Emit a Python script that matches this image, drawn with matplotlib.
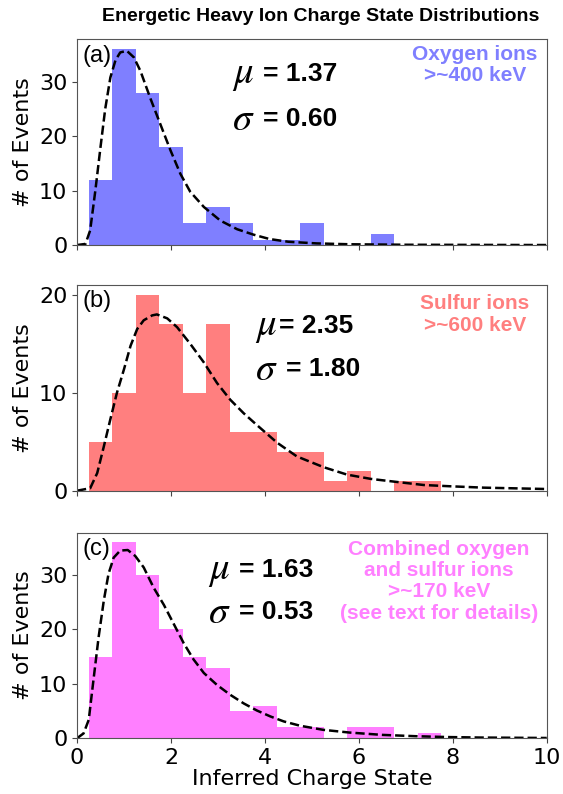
import numpy as np
import matplotlib
matplotlib.use('Agg')
import matplotlib.pyplot as plt

plt.rcParams['mathtext.fontset'] = 'stix'

# histogram bins (centres, width 0.5)
bin_centers = [0.5, 1.0, 1.5, 2.0, 2.5, 3.0, 3.5, 4.0, 4.5, 5.0, 5.5, 6.0, 6.5, 7.0, 7.5]
counts_oxygen = [12, 36, 28, 18, 4, 7, 4, 1, 1, 4, 0, 0, 2, 0, 0]
counts_sulfur = [5, 10, 20, 17, 10, 17, 6, 6, 4, 4, 1, 2, 0, 1, 1]
counts_combined = [15, 36, 30, 20, 15, 13, 5, 6, 2, 2, 0, 2, 2, 0, 1]

# fitted curves
fit_x_oxygen = [0, 0.18, 0.28, 0.39, 0.5, 0.6, 0.71, 0.82, 0.92, 1.06, 1.21, 1.35, 1.56,
                1.77, 1.99, 2.2, 2.41, 2.7, 3.05, 3.41, 3.76, 4.1, 4.5, 5.1, 5.8, 7.0, 10.0]
fit_y_oxygen = [0, 0.2, 2.7, 10, 18, 25, 30.8, 34, 35.4, 35.7, 34.5, 32, 27,
                22.3, 17.4, 13.1, 9.8, 7.0, 4.5, 2.9, 1.9, 1.1, 0.6, 0.3, 0.14, 0.05, 0.0]

fit_x_sulfur = [0, 0.28, 0.43, 0.57, 0.71, 0.85, 1.0, 1.14, 1.28, 1.42, 1.6, 1.7, 1.92, 2.13,
                2.41, 2.7, 2.98, 3.26, 3.55, 3.83, 4.26, 4.68, 5.25, 5.75, 6.26, 6.76, 7.38,
                7.95, 8.66, 10.0]
fit_y_sulfur = [0, 0.25, 1.8, 4.5, 7.3, 10, 12.4, 14.8, 16.5, 17.4, 17.9, 18.0, 17.6, 16.7,
                15.0, 13.1, 11.0, 9.3, 7.9, 6.7, 4.9, 3.5, 2.4, 1.64, 1.2, 0.92, 0.58,
                0.45, 0.31, 0.17]

fit_x_combined = [0, 0.14, 0.25, 0.35, 0.46, 0.57, 0.67, 0.78, 0.92, 1.08, 1.24, 1.42, 1.63,
                  1.85, 2.06, 2.27, 2.48, 2.7, 2.98, 3.26, 3.55, 3.83, 4.12, 4.4, 4.75, 5.24,
                  5.8, 6.5, 7.2, 7.9, 8.6, 10.0]
fit_y_combined = [0, 0.9, 3.4, 10.7, 18.6, 25.3, 30.2, 33.2, 34.5, 34.6, 33.5, 31.4, 27.7,
                  24.5, 21, 17.5, 14.5, 12, 9.8, 8.0, 6.4, 5.1, 4.0, 3.1, 2.3, 1.55,
                  1.05, 0.62, 0.38, 0.22, 0.13, 0.05]

panels = [
    dict(tag='(a)', counts=counts_oxygen, fx=fit_x_oxygen, fy=fit_y_oxygen, color='blue',
         mu='1.37', sigma='0.60', label='Oxygen ions\n>~400 keV',
         mu_x=0.33, eq_x=0.397, sig_eq_x=0.397, mu_y=0.83, sig_y=0.613,
         lab_x=0.847, lab_y=0.975, yticks=[0, 10, 20, 30]),
    dict(tag='(b)', counts=counts_sulfur, fx=fit_x_sulfur, fy=fit_y_sulfur, color='red',
         mu='2.35', sigma='1.80', label='Sulfur ions\n>~600 keV',
         mu_x=0.378, eq_x=0.43, sig_eq_x=0.445, mu_y=0.80, sig_y=0.59,
         lab_x=0.847, lab_y=0.955, yticks=[0, 10, 20]),
    dict(tag='(c)', counts=counts_combined, fx=fit_x_combined, fy=fit_y_combined, color='magenta',
         mu='1.63', sigma='0.53',
         label='Combined oxygen\nand sulfur ions\n>~170 keV\n(see text for details)',
         mu_x=0.278, eq_x=0.345, sig_eq_x=0.345, mu_y=0.819, sig_y=0.616,
         lab_x=0.771, lab_y=0.965, yticks=[0, 10, 20, 30]),
]

fig = plt.figure(figsize=(5.63, 7.94), dpi=100)
bottoms = [0.6914, 0.3820, 0.0702]
sans = 'Liberation Sans'

for p, b in zip(panels, bottoms):
    ax = fig.add_axes([0.1368, b, 0.8343, 0.259])
    ax.bar(bin_centers, p['counts'], width=0.5, color=p['color'], alpha=0.5, linewidth=0)
    ax.plot(p['fx'], p['fy'], 'k--', lw=1.8)
    ax.set_xlim(0, 10)
    ax.set_xticks([0, 2, 4, 6, 8, 10])
    ax.set_yticks(p['yticks'])
    ax.tick_params(labelsize=16, color='#444444')
    for s in ax.spines.values():
        s.set_color('#555555')
        s.set_linewidth(0.8)
    ax.set_ylabel('# of Events', fontsize=16)
    if p['tag'] != '(c)':
        ax.tick_params(labelbottom=False)
    else:
        ax.set_xlabel('Inferred Charge State', fontsize=16, labelpad=1)

    ax.text(0.012, 0.975, p['tag'], transform=ax.transAxes, ha='left', va='top',
            fontsize=17, family=sans)
    ax.text(p['mu_x'], p['mu_y'], r'$\mu$', transform=ax.transAxes, ha='left',
            va='center', fontsize=28)
    ax.text(p['eq_x'], p['mu_y'], '= ' + p['mu'], transform=ax.transAxes, ha='left',
            va='center', fontsize=19, fontweight='bold', family=sans)
    ax.text(p['mu_x'], p['sig_y'], r'$\sigma$', transform=ax.transAxes, ha='left',
            va='center', fontsize=28)
    ax.text(p['sig_eq_x'], p['sig_y'], '= ' + p['sigma'], transform=ax.transAxes, ha='left',
            va='center', fontsize=19, fontweight='bold', family=sans)
    ax.text(p['lab_x'], p['lab_y'], p['label'], transform=ax.transAxes, ha='center',
            va='top', fontsize=15, fontweight='bold', family=sans, color=p['color'],
            alpha=0.5, linespacing=1.15)

fig.text(0.57, 0.979, 'Energetic Heavy Ion Charge State Distributions', ha='center',
         va='center', fontsize=14, fontweight='bold', family=sans)

fig.savefig('out.png', dpi=100)
